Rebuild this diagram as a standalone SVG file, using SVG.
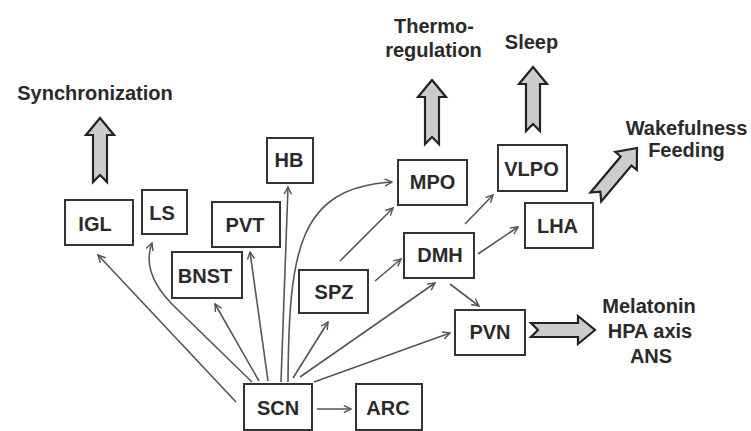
<svg xmlns="http://www.w3.org/2000/svg" xmlns:xlink="http://www.w3.org/1999/xlink" width="751" height="431" viewBox="0 0 751 431">
  <style>
    .box { fill: #ffffff; stroke: #333333; stroke-width: 2; }
    .lbl { font-family: "Liberation Sans", Arial, sans-serif; font-weight: bold; font-size: 20px; fill: #2a2a2a; text-anchor: middle; }
    .con { fill: none; stroke: #555555; stroke-width: 1.6; marker-end: url(#ah); }
    .big { fill: #cccccc; stroke: #222222; stroke-width: 2.2; stroke-linejoin: miter; }
  </style>
  <defs>
    <marker id="ah" viewBox="0 0 10 10" refX="9" refY="5" markerWidth="9" markerHeight="9" markerUnits="userSpaceOnUse" orient="auto">
      <path d="M1,1 L9,5 L1,9" fill="none" stroke="#555555" stroke-width="1.6"/>
    </marker>
    <path id="blk" d="M0,0 L14,17 L7,17 L7,64 L0,57 L-7,64 L-7,17 L-14,17 Z"/>
  </defs>
  <rect width="751" height="431" fill="#ffffff"/>

  <g id="connectors">
    <path class="con" d="M236,402 L98,255"/>
    <path class="con" d="M252,382 L178,310 Q140,275 152,243"/>
    <path class="con" d="M259,381 L215,304"/>
    <path class="con" d="M268,381 L250,252"/>
    <path class="con" d="M281,382 L288,187"/>
    <path class="con" d="M288,382 C289,250 298,188 392,182"/>
    <path class="con" d="M293,378 L328,322"/>
    <path class="con" d="M300,377 L435,283"/>
    <path class="con" d="M314,382 L450,333"/>
    <path class="con" d="M317,409 L351,409"/>
    <path class="con" d="M340,261 L393,208"/>
    <path class="con" d="M375,281 L401,259"/>
    <path class="con" d="M465,224 L493,195"/>
    <path class="con" d="M478,254 L518,227"/>
    <path class="con" d="M450,284 L479,306"/>
  </g>

  <g id="outputs">
    <use xlink:href="#blk" href="#blk" class="big" transform="translate(100,118)"/>
    <use xlink:href="#blk" href="#blk" class="big" transform="translate(432,80)"/>
    <use xlink:href="#blk" href="#blk" class="big" transform="translate(533,67)"/>
    <use xlink:href="#blk" href="#blk" class="big" transform="translate(637,148) rotate(40)"/>
    <use xlink:href="#blk" href="#blk" class="big" transform="translate(595,330) rotate(90)"/>
    <text class="lbl" x="95" y="100">Synchronization</text>
    <text class="lbl" x="434" y="33">Thermo-</text>
    <text class="lbl" x="433.5" y="57">regulation</text>
    <text class="lbl" x="531.5" y="49">Sleep</text>
    <text class="lbl" x="686.5" y="135">Wakefulness</text>
    <text class="lbl" x="686.5" y="157">Feeding</text>
    <text class="lbl" x="649" y="313">Melatonin</text>
    <text class="lbl" x="650" y="338">HPA axis</text>
    <text class="lbl" x="651" y="363">ANS</text>
  </g>

  <g id="IGL"><rect class="box" x="65" y="200" width="68" height="45"/><text class="lbl" x="95" y="231">IGL</text></g>
  <g id="LS"><rect class="box" x="142" y="190" width="45" height="44"/><text class="lbl" x="162" y="220">LS</text></g>
  <g id="PVT"><rect class="box" x="212" y="202" width="68" height="45"/><text class="lbl" x="245" y="232">PVT</text></g>
  <g id="BNST"><rect class="box" x="172" y="252" width="70" height="46"/><text class="lbl" x="205" y="283">BNST</text></g>
  <g id="HB"><rect class="box" x="267" y="138" width="46" height="45"/><text class="lbl" x="289" y="167">HB</text></g>
  <g id="MPO"><rect class="box" x="398" y="160" width="69" height="45"/><text class="lbl" x="432.5" y="189">MPO</text></g>
  <g id="VLPO"><rect class="box" x="498" y="145" width="69" height="46"/><text class="lbl" x="531.5" y="176">VLPO</text></g>
  <g id="LHA"><rect class="box" x="525" y="203" width="68" height="45"/><text class="lbl" x="557.5" y="233">LHA</text></g>
  <g id="DMH"><rect class="box" x="404" y="233" width="70" height="45"/><text class="lbl" x="440" y="262">DMH</text></g>
  <g id="SPZ"><rect class="box" x="299" y="270" width="69" height="43"/><text class="lbl" x="334" y="299">SPZ</text></g>
  <g id="PVN"><rect class="box" x="455" y="310" width="70" height="45"/><text class="lbl" x="490" y="339">PVN</text></g>
  <g id="SCN"><rect class="box" x="244" y="384" width="68" height="46"/><text class="lbl" x="278" y="415">SCN</text></g>
  <g id="ARC"><rect class="box" x="356" y="384" width="66" height="46"/><text class="lbl" x="388" y="415">ARC</text></g>
</svg>
